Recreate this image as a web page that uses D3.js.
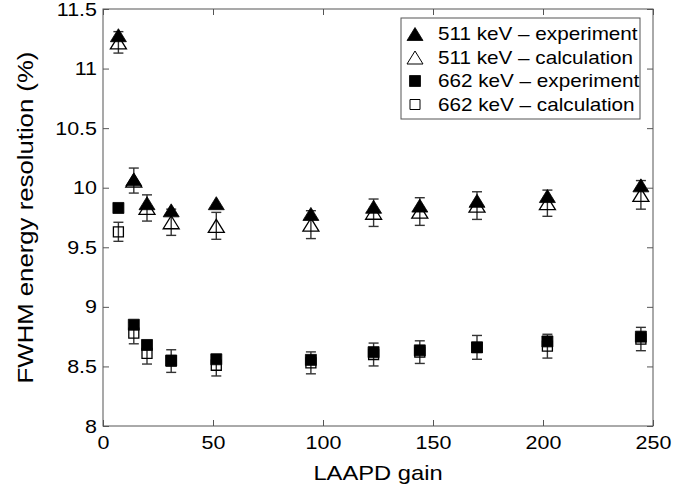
<!DOCTYPE html>
<html>
<head>
<meta charset="utf-8">
<script src="https://cdn.jsdelivr.net/npm/d3@7"></script>
<style>
  html, body { margin: 0; padding: 0; background: #fff; }
  svg { display: block; font-family: "Liberation Sans", Arial, Helvetica, sans-serif; }
</style>
</head>
<body>
<svg id="chart" width="688" height="489"></svg>
<script>
// LAAPD gain values at which the resolution was measured
const gain = [7, 14, 20, 31, 51.5, 94.5, 123, 144, 170, 202, 244.5];

// 511 keV: measured and calculated FWHM (%), with calculation uncertainty
const exp511  = [11.28, 10.07, 9.87, 9.81, 9.87, 9.78, 9.84, 9.85, 9.89, 9.93, 10.02];
const calc511 = [11.22, 10.06, 9.83, 9.71, 9.68, 9.69, 9.79, 9.80, 9.85, 9.87, 9.94];
const err511  = [0.09, 0.105, 0.11, 0.11, 0.113, 0.117, 0.115, 0.116, 0.116, 0.11, 0.12];

// 662 keV: measured and calculated FWHM (%), with calculation uncertainty
const exp662  = [9.83, 8.85, 8.68, 8.55, 8.56, 8.555, 8.62, 8.635, 8.66, 8.71, 8.75];
const calc662 = [9.63, 8.78, 8.61, 8.545, 8.51, 8.53, 8.60, 8.62, 8.66, 8.67, 8.73];
const err662  = [0.08, 0.09, 0.09, 0.095, 0.09, 0.092, 0.096, 0.095, 0.1, 0.1, 0.098];

const xTicks = [0, 50, 100, 150, 200, 250];
const yTicks = [8, 8.5, 9, 9.5, 10, 10.5, 11, 11.5];
const yTickLabels = ["8", "8.5", "9", "9.5", "10", "10.5", "11", "11.5"];

const legendLabels = [
  "511 keV \u2013 experiment",
  "511 keV \u2013 calculation",
  "662 keV \u2013 experiment",
  "662 keV \u2013 calculation"
];

const svg = d3.select("#chart");
const plotL = 103, plotR = 653, plotT = 9, plotB = 426;

const x = d3.scaleLinear().domain([0, 250]).range([plotL, plotR]);
const y = d3.scaleLinear().domain([8, 11.5]).range([plotB, plotT]);

const axisColor = "#555";
const tickLen = 6;
// the typeface runs a little wider than Arial metrics
const widen = 1.13;

// frame
svg.append("rect")
  .attr("x", plotL).attr("y", plotT)
  .attr("width", plotR - plotL).attr("height", plotB - plotT)
  .attr("fill", "none").attr("stroke", axisColor).attr("stroke-width", 1);

// inward ticks on all four sides
const bx = svg.append("g").attr("transform", `translate(0,${plotB})`)
  .call(d3.axisBottom(x).tickValues(xTicks).tickSize(-tickLen).tickPadding(9).tickFormat(d3.format("d")));
const tx = svg.append("g").attr("transform", `translate(0,${plotT})`)
  .call(d3.axisTop(x).tickValues(xTicks).tickSize(-tickLen).tickFormat(""));
const ly = svg.append("g").attr("transform", `translate(${plotL},0)`)
  .call(d3.axisLeft(y).tickValues(yTicks).tickSize(-tickLen).tickPadding(6)
    .tickFormat((d, i) => yTickLabels[i]));
const ry = svg.append("g").attr("transform", `translate(${plotR},0)`)
  .call(d3.axisRight(y).tickValues(yTicks).tickSize(-tickLen).tickFormat(""));

[bx, tx, ly, ry].forEach(g => {
  g.select(".domain").remove();
  g.selectAll(".tick line").attr("stroke", axisColor);
  g.selectAll(".tick text").attr("fill", "#000").attr("font-size", 19)
    .attr("font-family", "Liberation Sans, Arial, sans-serif")
    .each(function () {
      const t = d3.select(this);
      const tx0 = +t.attr("x") || 0, ty0 = +t.attr("y") || 0;
      t.attr("x", 0).attr("y", 0)
        .attr("transform", `translate(${tx0},${ty0}) scale(${widen},1)`);
    });
});

// axis titles
svg.append("text")
  .attr("transform", `translate(${(plotL + plotR) / 2},480) scale(${widen},1)`)
  .attr("text-anchor", "middle").attr("font-size", 21)
  .text("LAAPD gain");
svg.append("text")
  .attr("transform", `translate(33,${(plotT + plotB) / 2}) rotate(-90) scale(1.17,1)`)
  .attr("text-anchor", "middle").attr("font-size", 22)
  .text("FWHM energy resolution (%)");

// marker shapes
const triW = 16, triH = 13;
const triPath = (w, h) => `M0,${-h / 2}L${w / 2},${h / 2}L${-w / 2},${h / 2}Z`;
const sqPath = s => `M${-s / 2},${-s / 2}h${s}v${s}h${-s}Z`;

const errColor = "#333";
const capW = 10;

function errorBars(vals, errs) {
  const g = svg.append("g");
  gain.forEach((gv, i) => {
    const cx = x(gv), y0 = y(vals[i] - errs[i]), y1 = y(vals[i] + errs[i]);
    g.append("line").attr("x1", cx).attr("x2", cx).attr("y1", y0).attr("y2", y1)
      .attr("stroke", errColor).attr("stroke-width", 1.4);
    [y0, y1].forEach(yy => g.append("line")
      .attr("x1", cx - capW / 2).attr("x2", cx + capW / 2).attr("y1", yy).attr("y2", yy)
      .attr("stroke", errColor).attr("stroke-width", 1.4));
  });
}

function markers(vals, path, filled) {
  svg.append("g").selectAll("path").data(vals).join("path")
    .attr("transform", (d, i) => `translate(${x(gain[i])},${y(d)})`)
    .attr("d", path)
    .attr("fill", filled ? "#000" : "none")
    .attr("stroke", "#000").attr("stroke-width", filled ? 0.8 : 1.3);
}

// calculated series (open markers with uncertainties)
errorBars(calc511, err511);
markers(calc511, triPath(triW, triH), false);
errorBars(calc662, err662);
markers(calc662, sqPath(10), false);

// measured series (filled markers)
markers(exp511, triPath(triW, triH), true);
markers(exp662, sqPath(11), true);

// legend
const lg = svg.append("g");
lg.append("rect").attr("x", 401).attr("y", 18).attr("width", 239).attr("height", 101)
  .attr("fill", "#fff").attr("stroke", axisColor).attr("stroke-width", 1);
const legendShapes = [
  { d: triPath(triW, triH), filled: true },
  { d: triPath(triW, triH), filled: false },
  { d: sqPath(11), filled: true },
  { d: sqPath(10), filled: false }
];
const rowY = d3.scaleLinear().domain([0, 3]).range([34, 104.5]);
legendLabels.forEach((t, i) => {
  const s = legendShapes[i];
  lg.append("path").attr("transform", `translate(415,${rowY(i)})`).attr("d", s.d)
    .attr("fill", s.filled ? "#000" : "none").attr("stroke", "#000")
    .attr("stroke-width", s.filled ? 0.8 : 1);
  lg.append("text").attr("transform", `translate(438,${rowY(i)}) scale(1.15,1)`)
    .attr("dy", "0.36em").attr("font-size", 18).text(t);
});
</script>
</body>
</html>
